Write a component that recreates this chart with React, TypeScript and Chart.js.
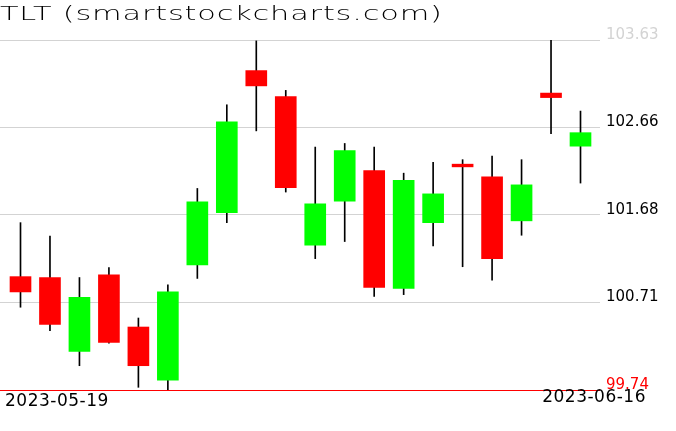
import React, { useEffect, useRef } from "react";
import { Chart, registerables } from "chart.js";

Chart.register(...registerables);

const chartTitle = "TLT (smartstockcharts.com)";

const dates = [
  "2023-05-19", "2023-05-22", "2023-05-23", "2023-05-24", "2023-05-25",
  "2023-05-26", "2023-05-30", "2023-05-31", "2023-06-01", "2023-06-02",
  "2023-06-05", "2023-06-06", "2023-06-07", "2023-06-08", "2023-06-09",
  "2023-06-12", "2023-06-13", "2023-06-14", "2023-06-15", "2023-06-16",
];

const opens = [
  101.0, 100.99, 100.17, 101.02, 100.44, 99.85, 101.13, 101.71, 103.29, 103.0,
  101.35, 101.84, 102.18, 100.87, 101.6, 102.25, 102.11, 101.62, 103.04, 102.45,
];
const highs = [
  101.6, 101.45, 100.99, 101.1, 100.54, 100.91, 101.98, 102.91, 103.62, 103.07,
  102.44, 102.48, 102.44, 102.15, 102.27, 102.3, 102.34, 102.3, 103.63, 102.84,
];
const lows = [
  100.66, 100.4, 100.01, 100.26, 99.77, 99.74, 100.98, 101.6, 102.62, 101.94,
  101.2, 101.39, 100.78, 100.8, 101.34, 101.11, 100.96, 101.46, 102.59, 102.04,
];
const closes = [
  100.83, 100.47, 100.77, 100.27, 100.01, 100.83, 101.83, 102.72, 103.12, 101.99,
  101.81, 102.4, 100.88, 102.07, 101.92, 102.22, 101.2, 102.02, 102.99, 102.6,
];

const yTickValues = [99.74, 100.7125, 101.685, 102.6575, 103.63];
const yTickLabels = ["99.74", "100.71", "101.68", "102.66", "103.63"];

const UP_COLOR = "#00ff00";
const DOWN_COLOR = "#ff0000";
const GRID_COLOR = "#d3d3d3";

const X_MIN = -0.6955;
const X_MAX = 19.6616;

const datePlugin = {
  id: "dateLabels",
  afterDraw(chart: any) {
    const ctx = chart.ctx as CanvasRenderingContext2D;
    ctx.save();
    ctx.font = "17px 'DejaVu Sans'";
    ctx.fillStyle = "#000000";
    ctx.textBaseline = "alphabetic";
    (ctx as any).letterSpacing = "0.5px";
    ctx.textAlign = "left";
    ctx.fillText(dates[0], 5, 406);
    ctx.textAlign = "right";
    ctx.fillText(dates[dates.length - 1], 646, 402);
    ctx.restore();
  },
};

export default function App() {
  const canvasRef = useRef<HTMLCanvasElement | null>(null);

  useEffect(() => {
    const canvas = canvasRef.current;
    if (!canvas) return;
    const bodyData = dates.map((_, i) => ({ x: i, y: [opens[i], closes[i]] }));
    const wickData = dates.map((_, i) => ({ x: i, y: [lows[i], highs[i]] }));
    const bodyColors = dates.map((_, i) => (closes[i] >= opens[i] ? UP_COLOR : DOWN_COLOR));

    const chart = new Chart(canvas, {
      type: "bar",
      data: {
        datasets: [
          {
            label: "body",
            data: bodyData as any,
            backgroundColor: bodyColors,
            borderWidth: 0,
            barThickness: 21,
            grouped: false,
            order: 0,
          } as any,
          {
            label: "wick",
            data: wickData as any,
            backgroundColor: "#000000",
            borderWidth: 0,
            barThickness: 1,
            grouped: false,
            order: 1,
          } as any,
        ],
      },
      options: {
        animation: false,
        responsive: false,
        devicePixelRatio: 1,
        layout: { padding: { top: 40, bottom: 41, left: 0, right: 0 } },
        plugins: {
          legend: { display: false },
          tooltip: { enabled: false },
          title: { display: false },
        },
        scales: {
          x: {
            type: "linear",
            min: X_MIN,
            max: X_MAX,
            offset: false,
            display: false,
          },
          y: {
            type: "linear",
            position: "right",
            min: yTickValues[0],
            max: yTickValues[yTickValues.length - 1],
            afterBuildTicks: (scale: any) => {
              scale.ticks = yTickValues.map((v) => ({ value: v }));
            },
            afterFit: (scale: any) => {
              scale.width = 76;
            },
            border: { display: false },
            grid: {
              drawTicks: false,
              lineWidth: 1,
              color: (ctx: any) => (ctx.index === 0 ? "#ff0000" : GRID_COLOR),
            },
            ticks: {
              padding: 6,
              labelOffset: -5,
              font: { family: "'DejaVu Sans'", size: 15 },
              color: (ctx: any) =>
                ctx.index === 0
                  ? "#ff0000"
                  : ctx.index === yTickValues.length - 1
                  ? GRID_COLOR
                  : "#000000",
              callback: (_v: any, i: number) => yTickLabels[i],
            },
          },
        },
      } as any,
      plugins: [datePlugin],
    });
    return () => chart.destroy();
  }, []);

  return (
    <div
      style={{
        position: "fixed",
        left: 0,
        top: 0,
        width: 676,
        height: 431,
        background: "#ffffff",
        overflow: "hidden",
      }}
    >
      <canvas
        ref={canvasRef}
        width={676}
        height={431}
        style={{ position: "absolute", left: 0, top: 0, width: 676, height: 431 }}
      />
      <div
        style={{
          position: "absolute",
          left: 0,
          top: 4,
          fontFamily: "'DejaVu Sans'",
          fontSize: 19,
          lineHeight: "19px",
          fontWeight: 200,
          letterSpacing: "0.5px",
          whiteSpace: "nowrap",
          transform: "scaleX(1.6)",
          transformOrigin: "left top",
          color: "#000000",
        }}
      >
        {chartTitle}
      </div>
    </div>
  );
}
